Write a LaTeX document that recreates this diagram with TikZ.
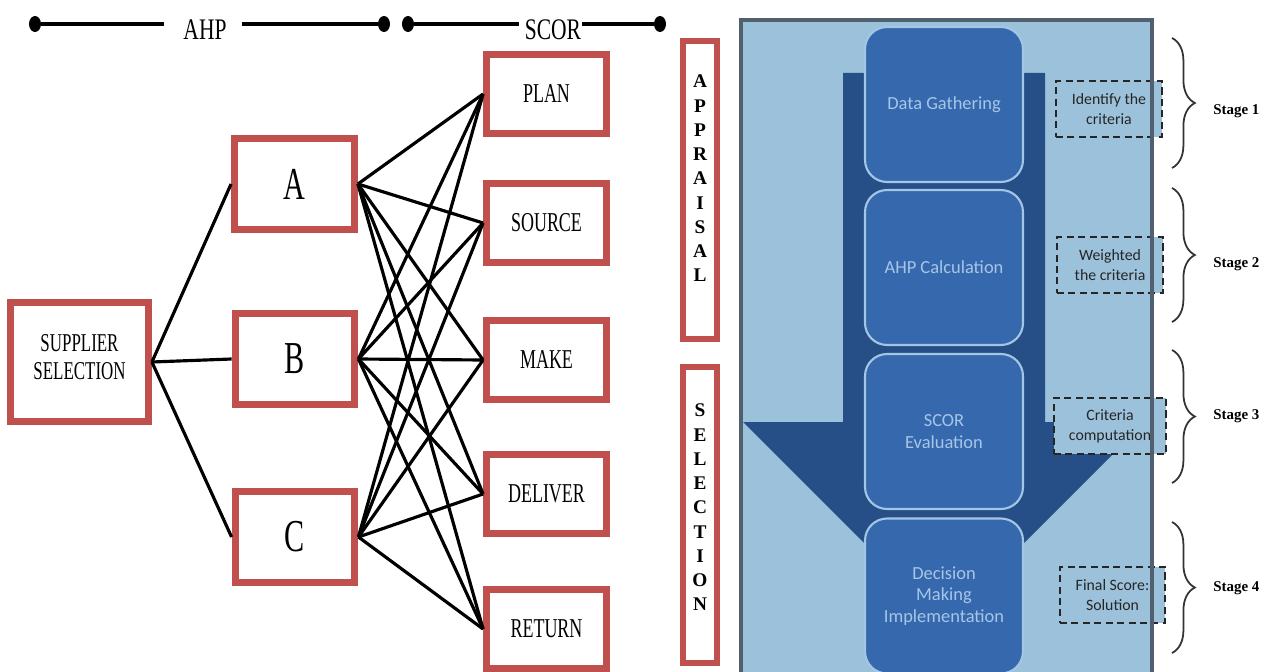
\documentclass[tikz,border=0pt]{standalone}
\usepackage{fontspec}
\setmainfont{Liberation Serif}
\newfontfamily\calibri{Carlito}
\usepackage{graphicx}
\usetikzlibrary{shapes.geometric,decorations.pathreplacing}
\definecolor{boxred}{RGB}{192,80,77}
\definecolor{panel}{RGB}{156,194,219}
\definecolor{arrowblue}{RGB}{37,79,134}
\definecolor{stepblue}{RGB}{54,104,173}
\definecolor{stepline}{RGB}{163,198,228}
\definecolor{steptext}{RGB}{166,198,232}
\definecolor{panelframe}{RGB}{80,96,110}
\tikzstyle{barend}=[ellipse, fill, inner sep=0pt, minimum width=0.24cm, minimum height=0.32cm]
\tikzstyle{headbar}=[line width=2.4pt]
\tikzstyle{redbox}=[draw=boxred, line width=4.2pt, fill=white, inner sep=0pt]
\tikzstyle{scor}=[redbox, minimum width=2.39cm, minimum height=1.57cm, font=\fontsize{15.5}{18}\selectfont]
\tikzstyle{ahp}=[redbox, minimum width=2.39cm, minimum height=1.81cm, font=\fontsize{26}{30}\selectfont]
\tikzstyle{phase}=[redbox, line width=3.4pt, minimum width=0.68cm, minimum height=5.98cm, font=\bfseries\fontsize{11}{13.8}\selectfont]
\tikzstyle{link}=[line width=1.8pt]
\tikzstyle{stepbox}=[draw=stepline, line width=1.2pt, fill=stepblue, rounded corners=0.44cm, minimum width=3.16cm, minimum height=3.1cm, align=center, text=steptext, font=\calibri\fontsize{10.5}{12.3}\selectfont]
\tikzstyle{notebox}=[draw=black!85, dash pattern=on 4pt off 2.5pt, line width=0.7pt, fill=panel, minimum width=2.12cm, minimum height=1.12cm, align=center, inner sep=1pt, text=black!85, font=\calibri\fontsize{9}{11.4}\selectfont]
\tikzstyle{stage}=[anchor=west, inner sep=0pt, font=\bfseries\fontsize{8.5}{10}\selectfont]
\tikzstyle{stagebrace}=[decorate, decoration={brace, amplitude=13pt}, line width=1pt, draw=black!80]
\newcommand{\barend}{\node[barend]}
\newcommand{\cond}[1]{\scalebox{0.66}[1]{#1}}
\newcommand{\stack}[2]{\raisebox{#1}[\height][\depth]{\begin{tabular}{@{}c@{}}#2\end{tabular}}}

\begin{document}
\begin{tikzpicture}[x=0.02cm, y=-0.02cm]
    \useasboundingbox (0,0) rectangle (1280,672);
    \clip (0,0) rectangle (1280,672);

    % right panel
    \fill[panel] (741,20) rectangle (1152,700);
    \fill[arrowblue] (843,73) -- (1045,73) -- (1045,422) -- (1145,422) -- (944,623)
        -- (743,422) -- (843,422) -- cycle;
    \node[stepbox] (gather) at (944,104.5) {Data Gathering};
    \node[stepbox] (calc) at (944,267.5) {AHP Calculation};
    \node[stepbox] (eval) at (944,431.5) {SCOR\\Evaluation};
    \node[stepbox] (decide) at (944,596) {Decision\\Making\\Implementation};
    \node[notebox] (n1) at (1109,109) {Identify the\\criteria};
    \node[notebox] (n2) at (1110,265) {Weighted\\the criteria};
    \node[notebox, minimum width=2.24cm] (n3) at (1110,426) {Criteria\\computation};
    \node[notebox, minimum width=2.1cm] (n4) at (1112.5,595) {Final Score:\\Solution};
    \draw[panelframe, line width=2pt] (741,700) -- (741,20) -- (1152,20) -- (1152,700);

    % stages
    \draw[stagebrace] (1172,38) -- (1172,168);
    \draw[stagebrace] (1172,188) -- (1172,322);
    \draw[stagebrace] (1172,350) -- (1172,483);
    \draw[stagebrace] (1172,522) -- (1172,653);
    \node[stage] (st1) at (1213,111) {Stage 1};
    \node[stage] (st2) at (1213,264) {Stage 2};
    \node[stage] (st3) at (1213,416) {Stage 3};
    \node[stage] (st4) at (1213,588) {Stage 4};

    % header bars
    \barend (ahpl) at (35,24) {};
    \barend (ahpr) at (384,24) {};
    \barend (scorl) at (408,24) {};
    \barend (scorr) at (660,24) {};
    \coordinate (ahpa) at (164,24);
    \coordinate (ahpb) at (242,24);
    \coordinate (scora) at (519,24);
    \coordinate (scorb) at (582,24);
    \node[font=\fontsize{17}{20}\selectfont] (ahptitle) at (205,30) {\scalebox{0.72}[1]{AHP}};
    \node[font=\fontsize{17}{20}\selectfont] (scortitle) at (553,30) {\scalebox{0.72}[1]{SCOR}};
    \draw[headbar] (ahpl) -- (ahpa) (ahpb) -- (ahpr);
    \draw[headbar] (scorl) -- (scora) (scorb) -- (scorr);

    % boxes
    \node[redbox, minimum width=2.75cm, minimum height=2.37cm, font=\fontsize{14.6}{15.5}\selectfont]
        (supplier) at (79.5,362) {\cond{\stack{0.04cm}{SUPPLIER\\SELECTION}}};
    \node[ahp] (a) at (294.5,184) {\cond{A}};
    \node[ahp] (b) at (295,359) {\cond{B}};
    \node[ahp] (c) at (295,537) {\cond{C}};
    \node[scor] (plan) at (546.5,94) {\cond{PLAN}};
    \node[scor] (source) at (546.5,223) {\cond{SOURCE}};
    \node[scor] (make) at (546.5,360) {\cond{MAKE}};
    \node[scor] (deliver) at (546.5,494) {\cond{DELIVER}};
    \node[scor] (return) at (546.5,629) {\cond{RETURN}};
    \node[phase] (appraisal) at (700,190) {\stack{0.2cm}{A\\P\\P\\R\\A\\I\\S\\A\\L}};
    \node[phase, minimum height=5.92cm] (selection) at (700,515) {\stack{0.12cm}{S\\E\\L\\E\\C\\T\\I\\O\\N}};

    \path[link]
        (supplier.east) edge (a.west) edge (b.west) edge (c.west);
    \foreach \s in {a,b,c}
        \path[link] (\s.east) edge (plan.west) edge (source.west) edge (make.west)
            edge (deliver.west) edge (return.west);
\end{tikzpicture}
\end{document}
